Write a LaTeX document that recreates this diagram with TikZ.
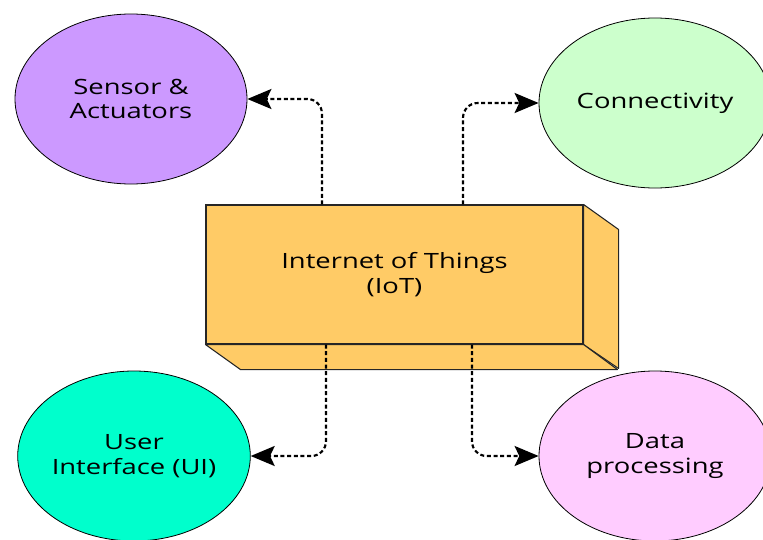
\documentclass[tikz,border=0pt]{standalone}
\usepackage{fontspec}
\setmainfont[FakeStretch=1.3]{Open Sans}
\usetikzlibrary{arrows.meta,shapes.geometric}
\definecolor{sensorc}{HTML}{CC99FF}
\definecolor{connc}{HTML}{CCFFCC}
\definecolor{uic}{HTML}{00FFCC}
\definecolor{datac}{HTML}{FFCCFF}
\definecolor{boxc}{HTML}{FFCB66}
\tikzset{
  bubble/.style={ellipse, draw=black, line width=0.6pt, minimum width=174pt, minimum height=127.5pt, inner sep=0pt, align=center, font=\fontsize{15.8}{18.5}\selectfont},
  boxfront/.style={rectangle, draw=black!85, line width=0.8pt, fill=boxc, minimum width=282.75pt, minimum height=104.25pt, inner sep=0pt, align=center, font=\fontsize{15.8}{18.75}\selectfont},
  boxface/.style={draw=black!85, line width=0.8pt, fill=boxc, line join=round},
  conn/.style={line width=1.6pt, dash pattern=on 3pt off 2pt, rounded corners=11pt, -{Stealth[length=18pt, width=15pt, inset=3.5pt]}}
}
\begin{document}
\begin{tikzpicture}[x=0.75pt, y=-0.75pt]
\useasboundingbox (0,0) rectangle (763,539);
\clip (0,0) rectangle (763,539);
% ellipses
\node[bubble, fill=sensorc] (sensor) at (131,99) {Sensor \&\\Actuators};
\node[bubble, fill=connc] (conn) at (655,103) {Connectivity};
\node[bubble, fill=uic] (ui) at (134,456) {User\\Interface (UI)};
\node[bubble, fill=datac] (data) at (655,456) {Data\\processing};
% box
\node[boxfront] (iot) at (394.5,274.5) {Internet of Things\\(IoT)};
\draw[boxface] (iot.north east) -- ++(35,25) -- ++(0,139) -- (iot.south east) -- cycle;
\draw[boxface] (iot.south west) -- ++(35,25) -- ++(377,0) -- (iot.south east) -- cycle;
% connectors
\draw[conn] ([xshift=-54.4pt]iot.north) |- (sensor.east);
\draw[conn] ([xshift=51.4pt]iot.north) |- (conn.west);
\draw[conn] ([xshift=-51.4pt]iot.south) |- (ui.east);
\draw[conn] ([xshift=58.1pt]iot.south) |- (data.west);
\end{tikzpicture}
\end{document}
